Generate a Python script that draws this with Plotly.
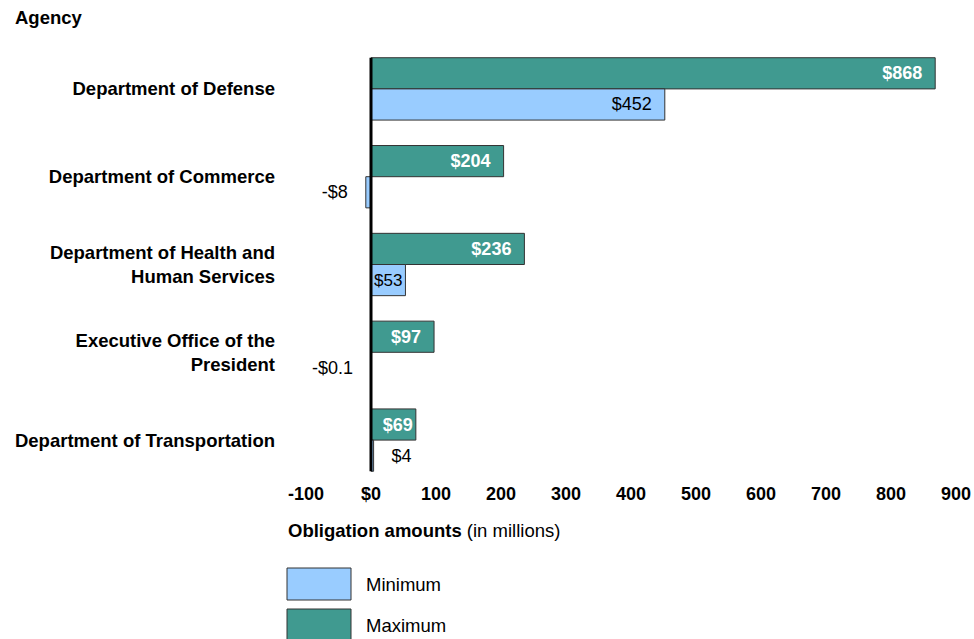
import plotly.graph_objects as go

agencies = ["Department of Defense", "Department of Commerce",
            "Department of Health and<br>Human Services",
            "Executive Office of the<br>President",
            "Department of Transportation"]
maximum = [868, 204, 236, 97, 69]
minimum = [452, -8, 53, -0.1, 4]
max_labels = ["$868", "$204", "$236", "$97", "$69"]
min_labels = ["$452", "-$8", "$53", "-$0.1", "$4"]
min_textpos = ["inside", "outside", "inside", "outside", "outside"]
tick_vals = [-100, 0, 100, 200, 300, 400, 500, 600, 700, 800, 900]
tick_text = ["-100", "$0", "100", "200", "300", "400", "500", "600", "700", "800", "900"]

W, H = 974, 639
L, R, T, B = 306, 18, 45, 155
PW, PH = W - L - R, H - T - B

def px(x):
    return (x - L) / PW

def py(y):
    return (H - B - y) / PH

NB = "\u00a0"

def pad(label, value, pos):
    # visual padding between label and bar end, like the reference
    if pos == "inside":
        return label + NB * 2 if value > 80 else label
    return label + NB * 3 if value < 0 else NB * 3 + label

max_text = [pad(t, v, "inside") for t, v in zip(max_labels, maximum)]
min_text = [pad(t, v, p) for t, v, p in zip(min_labels, minimum, min_textpos)]

FONT = "Liberation Sans, Arial, sans-serif"
FS = 18.5
TEAL = "#409A90"
BLUE = "#99CCFF"
EDGE = "#333333"

fig = go.Figure()
fig.add_trace(go.Bar(
    y=agencies, x=maximum, orientation="h", name="Maximum",
    marker=dict(color=TEAL, line=dict(color=EDGE, width=1)),
    text=max_text, textposition="inside", insidetextanchor="end",
    textfont=dict(family=FONT, size=18, color="white", weight="bold"),
    hoverinfo="skip", cliponaxis=False,
))
fig.add_trace(go.Bar(
    y=agencies, x=minimum, orientation="h", name="Minimum",
    marker=dict(color=BLUE, line=dict(color=EDGE, width=1)),
    text=min_text, textposition=min_textpos, insidetextanchor="end",
    textfont=dict(family=FONT, size=18, color="black"),
    hoverinfo="skip", cliponaxis=False,
))

shapes = [
    dict(type="line", xref="x", yref="y", x0=0, x1=0, y0=-0.355, y1=4.355,
         line=dict(color="black", width=3), layer="above"),
    dict(type="rect", xref="paper", yref="paper", x0=px(287), x1=px(351),
         y0=py(600), y1=py(568), fillcolor=BLUE, line=dict(color=EDGE, width=1)),
    dict(type="rect", xref="paper", yref="paper", x0=px(287), x1=px(351),
         y0=py(640), y1=py(609), fillcolor=TEAL, line=dict(color=EDGE, width=1)),
]

annotations = [
    dict(text="<b>Agency</b>", xref="paper", yref="paper", x=px(13), y=py(18),
         xanchor="left", yanchor="middle", showarrow=False,
         font=dict(family=FONT, size=FS, color="black")),
    dict(text="<b>Obligation amounts</b> (in millions)", xref="paper", yref="paper",
         x=px(286), y=py(530), xanchor="left", yanchor="middle", showarrow=False,
         font=dict(family=FONT, size=FS, color="black")),
    dict(text="Minimum", xref="paper", yref="paper", x=px(364), y=py(584),
         xanchor="left", yanchor="middle", showarrow=False,
         font=dict(family=FONT, size=FS, color="black")),
    dict(text="Maximum", xref="paper", yref="paper", x=px(364), y=py(625),
         xanchor="left", yanchor="middle", showarrow=False,
         font=dict(family=FONT, size=FS, color="black")),
]

fig.update_layout(
    width=W, height=H, margin=dict(l=L, r=R, t=T, b=B, autoexpand=False),
    paper_bgcolor="white", plot_bgcolor="white",
    barmode="group", bargap=0.29, bargroupgap=0,
    showlegend=False, shapes=shapes, annotations=annotations,
    font=dict(family=FONT, size=FS, color="black"),
    xaxis=dict(range=[-100, 900], tickvals=tick_vals, ticktext=tick_text,
               showgrid=False, zeroline=False, showline=False, ticks="",
               automargin=False, ticklabelstandoff=-3,
               tickfont=dict(family=FONT, size=18, color="black", weight="bold"),
               fixedrange=True),
    yaxis=dict(autorange="reversed", showgrid=False, zeroline=False, showline=False,
               ticks="", ticklabelstandoff=30, automargin=False,
               tickfont=dict(family=FONT, size=FS, color="black", weight="bold"),
               fixedrange=True),
)

fig.write_html("out.html", config={"displayModeBar": False},
               post_script="document.body.style.margin='0';document.body.style.overflow='hidden';")
